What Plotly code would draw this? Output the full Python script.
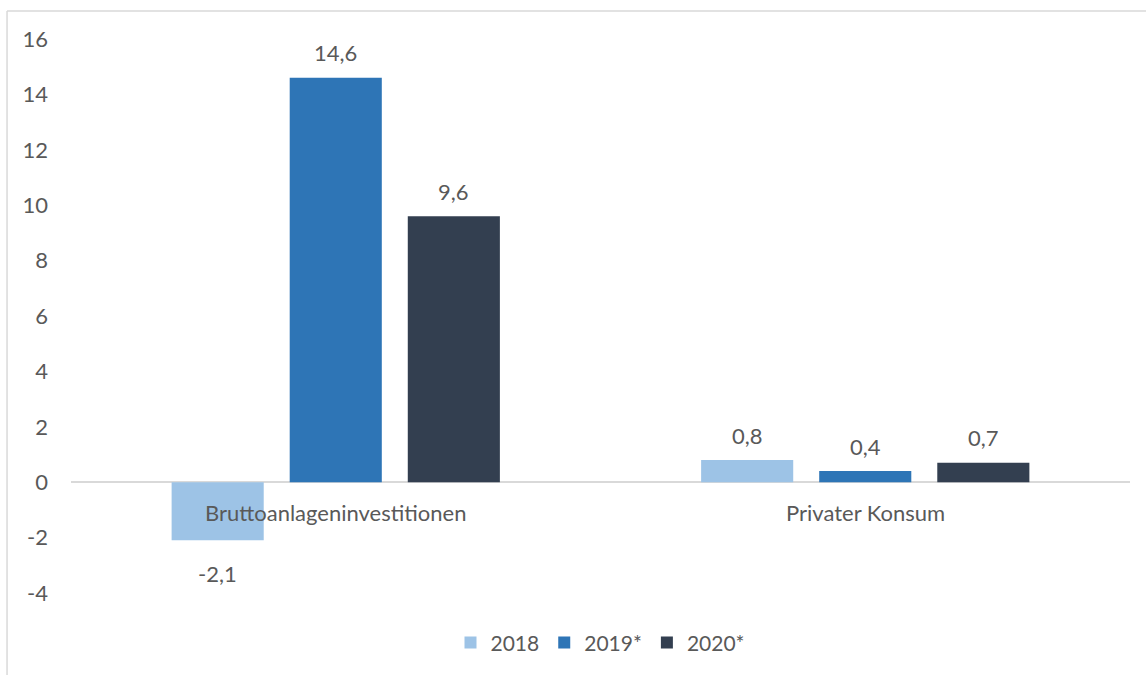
import plotly.graph_objects as go

categories = ["Bruttoanlageninvestitionen", "Privater Konsum"]
series_names = ["2018", "2019*", "2020*"]
values_2018 = [-2.1, 0.8]
values_2019 = [14.6, 0.4]
values_2020 = [9.6, 0.7]
y_ticks = [-4, -2, 0, 2, 4, 6, 8, 10, 12, 14, 16]
y_tick_labels = [str(t) for t in y_ticks]

series_values = [values_2018, values_2019, values_2020]
colors = ["#9dc3e6", "#2e75b6", "#333f50"]
text_color = "#595959"
font_family = "Lato, sans-serif"
fs = 22

fig = go.Figure()
for name, vals, col in zip(series_names, series_values, colors):
    fig.add_trace(go.Bar(
        x=categories, y=vals, name=name,
        marker=dict(color=col, line=dict(width=0)),
    ))

# value labels (German decimal comma) above positive / below negative bars
annotations = []
n = len(series_names)
for i, (vals, name) in enumerate(zip(series_values, series_names)):
    for j, v in enumerate(vals):
        annotations.append(dict(
            x=j, y=v, xref="x", yref="y",
            text=f"{v:.1f}".replace(".", ","),
            showarrow=False,
            xshift=(i - (n - 1) / 2) * 118,
            yshift=25 if v >= 0 else -33,
            font=dict(size=fs, color=text_color, family=font_family),
        ))

# category labels sit just under the zero line
for j, cat in enumerate(categories):
    annotations.append(dict(
        x=j, y=0, xref="x", yref="y", text=cat, showarrow=False,
        yshift=-30,
        font=dict(size=fs, color=text_color, family=font_family),
    ))

# chart frame
border = "#d9d9d9"
shapes = [
    dict(type="line", xref="paper", yref="paper",
         x0=-0.0604, x1=-0.0604, y0=1.0505, y1=-0.2, line=dict(color=border, width=1.5)),
    dict(type="line", xref="paper", yref="paper",
         x0=-0.0604, x1=1.03, y0=1.0505, y1=1.0505, line=dict(color=border, width=1.5)),
]

fig.update_layout(
    width=1146, height=675,
    margin=dict(l=71, r=16, t=39, b=82),
    paper_bgcolor="white", plot_bgcolor="white",
    barmode="group", bargap=0.331, bargroupgap=0.22,
    font=dict(family=font_family, size=fs, color=text_color),
    showlegend=True,
    legend=dict(orientation="h", x=0.5, xanchor="center", y=-0.09, yanchor="middle",
                font=dict(size=21, color=text_color), itemwidth=30, traceorder="normal"),
    annotations=annotations,
    shapes=shapes,
)
fig.update_xaxes(showticklabels=False, showgrid=False, showline=False, zeroline=False,
                 range=[-0.5, 1.5])
fig.update_yaxes(range=[-4, 16], tickvals=y_ticks, ticktext=y_tick_labels,
                 showgrid=False, showline=False,
                 zeroline=True, zerolinecolor="#d9d9d9", zerolinewidth=1.5,
                 ticklabelstandoff=22, tickfont=dict(size=fs, color=text_color))

fig.write_html("out.html")
